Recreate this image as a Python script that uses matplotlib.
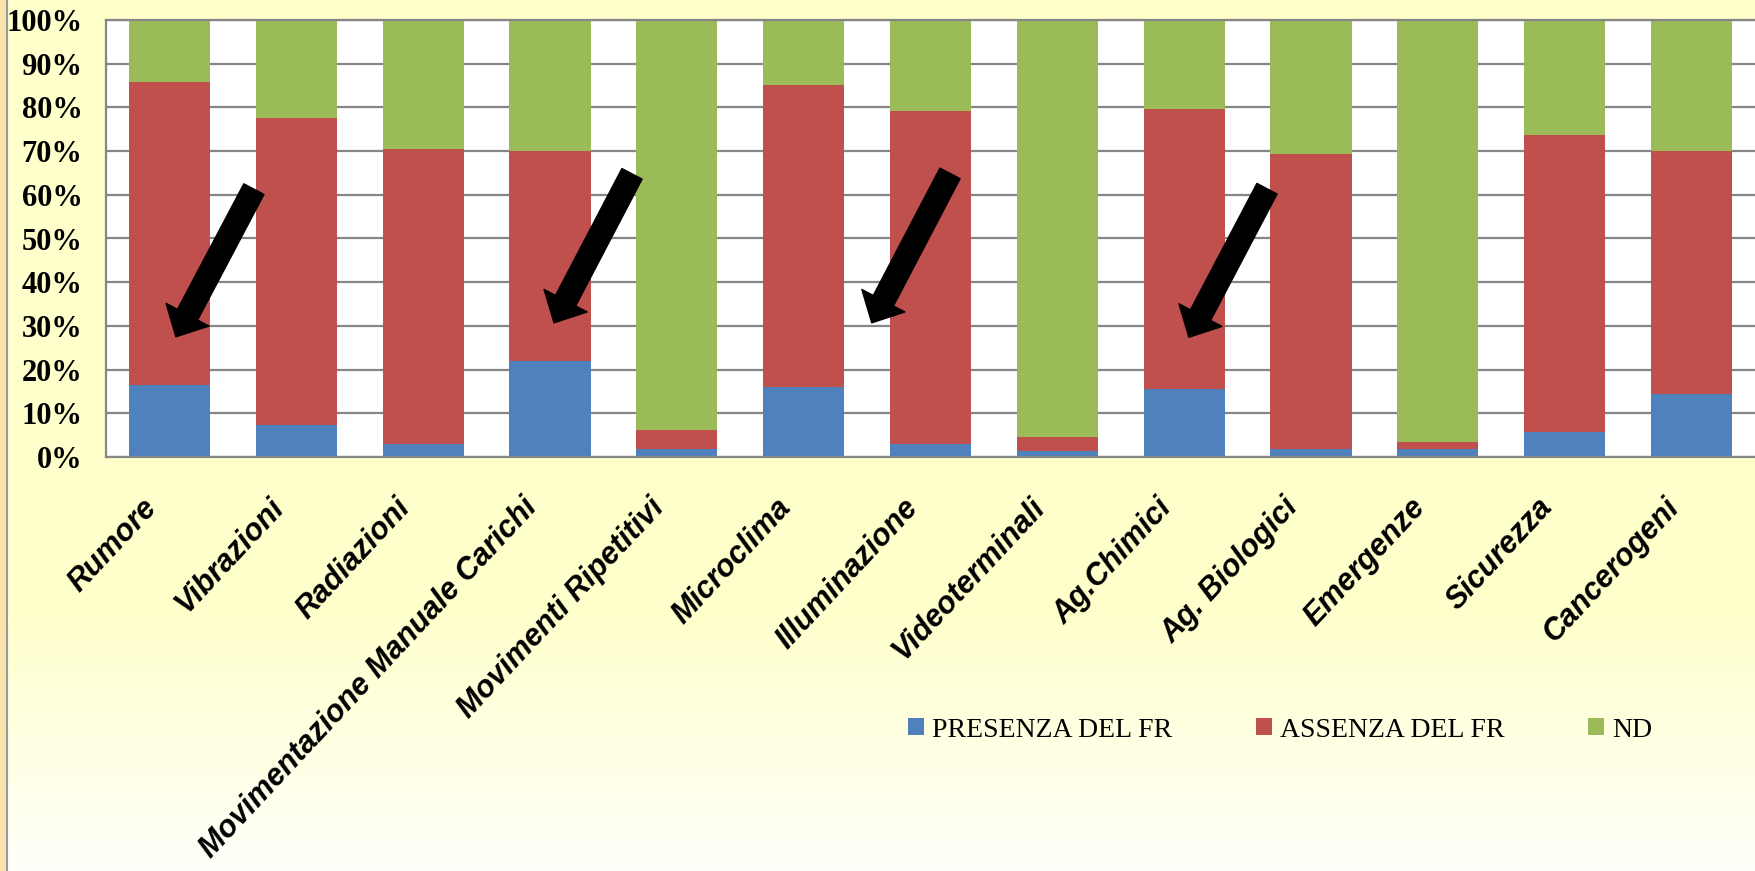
import numpy as np
import matplotlib
matplotlib.use("Agg")
import matplotlib.pyplot as plt
import matplotlib.transforms as mtransforms
from matplotlib.patches import Rectangle
from matplotlib.lines import Line2D

# Risk factor categories
categories = ["Rumore", "Vibrazioni", "Radiazioni", "Movimentazione Manuale Carichi",
              "Movimenti Ripetitivi", "Microclima", "Illuminazione", "Videoterminali",
              "Ag.Chimici", "Ag. Biologici", "Emergenze", "Sicurezza", "Cancerogeni"]

# Shares (fraction of total) per category
presenza = [0.165, 0.073, 0.030, 0.220, 0.018, 0.160, 0.030, 0.014, 0.156, 0.018, 0.018, 0.058, 0.145]
assenza_top = [0.859, 0.776, 0.705, 0.700, 0.062, 0.851, 0.792, 0.046, 0.796, 0.693, 0.034, 0.737, 0.700]
assenza = [a - p for a, p in zip(assenza_top, presenza)]
nd = [1.0 - a for a in assenza_top]

series_labels = ["PRESENZA DEL FR", "ASSENZA DEL FR", "ND"]
series_colors = ["#4F81BD", "#C0504D", "#9BBB59"]

yticks = np.arange(0, 1.01, 0.1)
ytick_labels = [f"{int(round(v * 100))}%" for v in yticks]

# Highlighted categories (arrow tail, arrow tip) in data units
arrows = [((0.666, 0.613), (0.051, 0.275)),
          ((3.647, 0.648), (3.032, 0.307)),
          ((6.154, 0.649), (5.537, 0.307)),
          ((8.653, 0.614), (8.037, 0.274))]

W, H = 1756, 871
fig = plt.figure(figsize=(W / 100, H / 100), dpi=100)

# Pale yellow background fading to white at the bottom
bg = fig.add_axes([0, 0, 1, 1], zorder=-10)
rows = np.linspace(0, 1, H)
fade = np.clip((rows - 0.70) / 0.30, 0, 1)
top_col = np.array([1.0, 1.0, 0xCC / 255])
bot_col = np.array([1.0, 1.0, 0xFA / 255])
grad = top_col[None, :] * (1 - fade[:, None]) + bot_col[None, :] * fade[:, None]
grad = np.repeat(grad[:, None, :], 4, axis=1)
bg.imshow(grad, aspect="auto", extent=[0, 1, 0, 1], origin="upper")
bg.add_patch(Rectangle((0, 0), 6 / W, 1, color="#FBE3AE", transform=bg.transAxes))
bg.add_line(Line2D([7 / W, 7 / W], [0, 1], color="#9A9A9A", lw=1.5, transform=bg.transAxes))
bg.set_xlim(0, 1)
bg.set_ylim(0, 1)
bg.axis("off")

ax = fig.add_axes([106 / W, (H - 457) / H, (1755 - 106) / W, 437 / H])
ax.set_facecolor("white")
x = np.arange(len(categories))
bw = 0.64
ax.bar(x, presenza, bw, color=series_colors[0], label=series_labels[0], zorder=2)
ax.bar(x, assenza, bw, bottom=presenza, color=series_colors[1], label=series_labels[1], zorder=2)
ax.bar(x, nd, bw, bottom=assenza_top, color=series_colors[2], label=series_labels[2], zorder=2)

ax.set_xlim(-0.5, len(categories) - 0.5)
ax.set_ylim(0, 1)
ax.set_yticks(yticks)
ax.set_yticklabels(ytick_labels, fontfamily="Liberation Serif", fontweight="bold", fontsize=22)
ax.tick_params(axis="y", length=0, pad=17)
ax.yaxis.grid(True, color="#868686", lw=1.6, zorder=0)
ax.set_axisbelow(True)

ax.set_xticks(x)
ax.set_xticklabels(categories, rotation=47, ha="right", va="center", rotation_mode="anchor",
                   fontfamily="Liberation Sans", fontweight="bold", fontstyle="italic", fontsize=22)
ax.tick_params(axis="x", length=0, pad=33)
shift = mtransforms.ScaledTranslation(-17 / 100, 0, fig.dpi_scale_trans)
for lbl in ax.get_xticklabels():
    lbl.set_transform(lbl.get_transform() + shift)

for side in ["left", "top", "bottom"]:
    ax.spines[side].set_color("#868686")
    ax.spines[side].set_linewidth(1.6)
ax.spines["right"].set_visible(False)

for tail, tip in arrows:
    ax.annotate("", xy=tip, xytext=tail,
                arrowprops=dict(arrowstyle="simple,head_length=18,head_width=35,tail_width=16.4",
                                mutation_scale=1, color="black", shrinkA=0, shrinkB=0),
                zorder=5)

handles, labels = ax.get_legend_handles_labels()
fig.legend(handles, labels, loc="center", bbox_to_anchor=(1280 / W, 1 - 730 / H), ncol=3,
           frameon=False, prop={"family": "Liberation Serif", "size": 20},
           handlelength=0.58, handleheight=0.58, handletextpad=0.3, columnspacing=3.0)

fig.savefig("out.png", dpi=100)
